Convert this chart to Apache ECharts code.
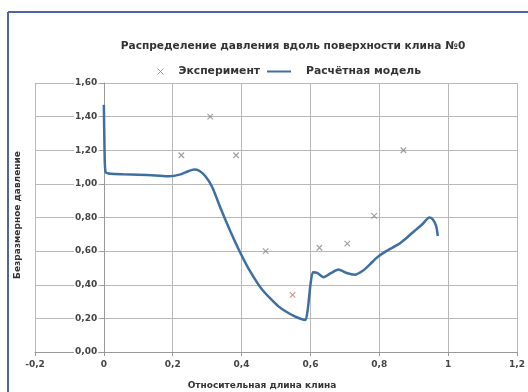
<!DOCTYPE html>
<html><head><meta charset="utf-8">
<script src="https://cdn.jsdelivr.net/npm/echarts@6/dist/echarts.min.js"></script>
<style>html,body{margin:0;padding:0;background:#fff}#c{width:528px;height:392px}</style>
</head><body><div id="c"></div>
<script>
const chartTitle = 'Распределение давления вдоль поверхности клина №0';
const seriesNames = ['Эксперимент', 'Расчётная модель'];
const xAxisName = 'Относительная длина клина';
const yAxisName = 'Безразмерное давление';

const expX = [0.225, 0.309, 0.384, 0.47, 0.548, 0.626, 0.707, 0.785, 0.87];
const expY = [1.17, 1.40, 1.17, 0.60, 0.34, 0.62, 0.645, 0.81, 1.20];

const modelX = [0, 0.002, 0.005, 0.02, 0.056, 0.1, 0.15, 0.19, 0.22, 0.245, 0.262, 0.277, 0.295, 0.315, 0.34, 0.368, 0.393, 0.422, 0.46, 0.508, 0.556, 0.585, 0.592, 0.6, 0.607, 0.62, 0.638, 0.66, 0.681, 0.705, 0.729, 0.753, 0.772, 0.792, 0.82, 0.855, 0.88, 0.902, 0.925, 0.945, 0.955, 0.965, 0.97];
const modelY = [1.47, 1.2, 1.07, 1.06, 1.057, 1.055, 1.05, 1.045, 1.055, 1.075, 1.085, 1.078, 1.045, 0.98, 0.85, 0.715, 0.604, 0.49, 0.37, 0.27, 0.21, 0.19, 0.25, 0.40, 0.475, 0.47, 0.445, 0.47, 0.49, 0.47, 0.46, 0.485, 0.52, 0.56, 0.60, 0.64, 0.68, 0.72, 0.76, 0.80, 0.79, 0.75, 0.69];

const xTicks = {min: -0.2, max: 1.2, step: 0.2};
const yTicks = {min: 0, max: 1.6, step: 0.2};

const chart = echarts.init(document.getElementById('c'), null, {renderer: 'canvas'});
const font = 'DejaVu Sans';
const grid = {left: 35, right: 8, top: 83, bottom: 40};
const plotW = 528 - grid.left - grid.right;
const yAxisOffset = -plotW * (0 - xTicks.min) / (xTicks.max - xTicks.min);
const crossPath = 'path://M0,0L10,10M10,0L0,10';
const expData = expX.map((x, i) => {
  const d = {value: [x, expY[i]]};
  if (i === 4) d.itemStyle = {borderColor: '#c77'};
  return d;
});
const legendText = {fontSize: 10.8, color: '#333', fontWeight: 'bold', fontFamily: font, padding: [0, 0, 0, 4]};
chart.setOption({
  animation: false,
  backgroundColor: '#fff',
  textStyle: {fontFamily: font},
  title: {text: chartTitle, left: 288, textAlign: 'center', top: 36,
    textStyle: {fontSize: 10.6, fontWeight: 'bold', color: '#333', fontFamily: font}},
  legend: [
    {top: 61, left: 150, itemWidth: 18, itemHeight: 6, symbolKeepAspect: true, textStyle: legendText,
      data: [{name: seriesNames[0], icon: crossPath, itemStyle: {color: 'none', borderColor: '#888', borderWidth: 1}}]},
    {top: 61, left: 262, itemWidth: 24, itemHeight: 2, textStyle: Object.assign({}, legendText, {padding: [0, 0, 0, 10]}),
      data: [{name: seriesNames[1], icon: 'rect', itemStyle: {color: '#3e6fa3'}}]}
  ],
  grid: Object.assign({containLabel: false}, grid),
  xAxis: {type: 'value', min: xTicks.min, max: xTicks.max, interval: xTicks.step,
    axisLine: {show: true, lineStyle: {color: '#999'}},
    axisTick: {show: true, length: 4, lineStyle: {color: '#999'}},
    axisLabel: {fontSize: 9, color: '#444', margin: 8, fontWeight: 'bold',
      formatter: v => { const r = Math.round(v * 10) / 10; return String(r).replace('.', ','); }},
    splitLine: {show: true, lineStyle: {color: '#b8b8b8'}}},
  yAxis: {type: 'value', min: yTicks.min, max: yTicks.max, interval: yTicks.step, position: 'left', offset: yAxisOffset,
    axisLine: {show: true, onZero: false, lineStyle: {color: '#999'}},
    axisTick: {show: true, length: 4, lineStyle: {color: '#999'}},
    axisLabel: {fontSize: 9, color: '#444', margin: 6, fontWeight: 'bold', backgroundColor: '#fff', padding: [0, 1],
      formatter: v => v.toFixed(2).replace('.', ',')},
    splitLine: {show: true, lineStyle: {color: '#b8b8b8'}}},
  series: [
    {name: seriesNames[0], type: 'scatter', data: expData, symbol: crossPath, symbolSize: 5.5,
      itemStyle: {color: 'none', borderColor: '#888', borderWidth: 1.2}, z: 3},
    {name: seriesNames[1], type: 'line', data: modelX.map((x, i) => [x, modelY[i]]), showSymbol: false, symbol: 'none',
      smooth: 0.2, lineStyle: {color: '#3e6fa3', width: 2.5}, itemStyle: {color: '#3e6fa3'}, z: 2}
  ],
  graphic: [
    {type: 'line', shape: {x1: 8, y1: 12, x2: 528, y2: 12}, style: {stroke: '#4f63a8', lineWidth: 2}},
    {type: 'line', shape: {x1: 8, y1: 12, x2: 8, y2: 392}, style: {stroke: '#4f63a8', lineWidth: 2}},
    {type: 'text', x: 18, y: 215, rotation: Math.PI / 2, style: {text: yAxisName, fontSize: 9, fontWeight: 'bold', fill: '#333', fontFamily: font, align: 'center', verticalAlign: 'middle'}},
    {type: 'text', x: 262, y: 386, style: {text: xAxisName, fontSize: 9, fontWeight: 'bold', fill: '#333', fontFamily: font, align: 'center', verticalAlign: 'middle'}}
  ]
});
</script></body></html>
